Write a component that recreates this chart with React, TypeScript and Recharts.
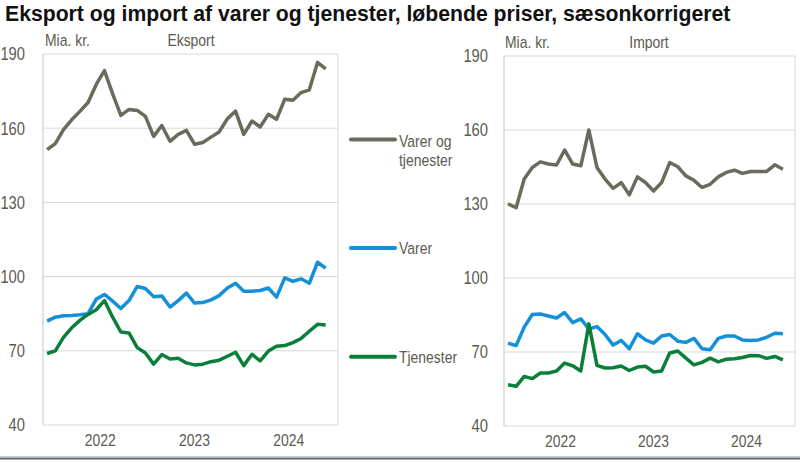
import React from 'react';
import { LineChart, Line, XAxis, YAxis, CartesianGrid } from 'recharts';

// Månedlige observationer, 2022M01 - 2024M11
const months = [
  '2022M01', '2022M02', '2022M03', '2022M04', '2022M05', '2022M06',
  '2022M07', '2022M08', '2022M09', '2022M10', '2022M11', '2022M12',
  '2023M01', '2023M02', '2023M03', '2023M04', '2023M05', '2023M06',
  '2023M07', '2023M08', '2023M09', '2023M10', '2023M11', '2023M12',
  '2024M01', '2024M02', '2024M03', '2024M04', '2024M05', '2024M06',
  '2024M07', '2024M08', '2024M09', '2024M10', '2024M11',
];

// Eksport (mia. kr.)
const eksportTotal = [
  151.3, 153.8, 159.4, 163.4, 166.8, 170.4, 177.7, 183.3, 173.9, 165.2, 167.6, 167.2,
  164.8, 156.7, 161.1, 154.7, 157.5, 159.1, 153.5, 154.2, 156.4, 158.5, 163.8, 166.9,
  157.5, 162.9, 160.5, 165.6, 163.6, 171.7, 171.3, 174.4, 175.5, 186.6, 184.0,
];
const eksportVarer = [
  82.0, 83.6, 84.2, 84.3, 84.6, 85.0, 90.9, 92.8, 90.1, 87.1, 90.3, 96.0,
  95.2, 91.9, 92.2, 87.7, 90.3, 93.3, 89.3, 89.5, 90.6, 92.3, 95.4, 97.3,
  94.1, 94.1, 94.4, 95.4, 91.7, 99.5, 98.1, 99.1, 97.3, 105.8, 103.4,
];
const eksportTjenester = [
  68.9, 70.0, 75.4, 79.3, 82.3, 84.7, 86.6, 90.3, 83.6, 77.6, 77.2, 71.3,
  69.1, 64.6, 68.5, 66.7, 67.0, 65.1, 64.3, 64.6, 65.6, 66.2, 67.8, 69.4,
  64.0, 68.6, 65.9, 69.9, 71.8, 72.1, 73.3, 75.0, 77.9, 80.7, 80.4,
];

// Import (mia. kr.)
const importTotal = [
  130.1, 128.5, 140.1, 144.8, 147.1, 146.2, 145.8, 151.9, 146.2, 145.5, 160.0, 144.8,
  140.1, 136.3, 138.7, 133.7, 141.0, 138.7, 135.3, 138.7, 146.8, 145.1, 141.4, 139.6,
  136.7, 138.0, 141.0, 142.8, 143.7, 142.4, 143.2, 143.2, 143.2, 145.9, 144.1,
];
const importVarer = [
  73.6, 72.6, 80.1, 85.2, 85.4, 84.6, 83.8, 86.0, 81.9, 83.4, 79.4, 80.3,
  77.1, 72.8, 74.7, 71.3, 77.4, 74.9, 73.6, 76.5, 77.1, 74.4, 73.9, 75.5,
  71.3, 70.9, 75.5, 76.5, 76.5, 74.9, 74.7, 74.9, 76.0, 77.6, 77.4,
];
const importTjenester = [
  56.7, 56.1, 60.1, 59.2, 61.5, 61.5, 62.3, 65.5, 64.4, 62.3, 81.4, 64.6,
  63.5, 63.6, 64.3, 62.5, 63.9, 64.2, 61.9, 62.3, 69.6, 70.4, 67.5, 64.8,
  65.8, 67.5, 66.0, 67.1, 67.3, 67.8, 68.6, 68.5, 67.4, 68.2, 66.8,
];

const yTicks = [40, 70, 100, 130, 160, 190];
const yearLabels = ['2022', '2023', '2024'];
const yearLabelPos = [6.5, 18, 29.5];
const yearBreaks = [11.5, 23.5, 35.5];

const colors = {
  total: '#6b6a5d',
  varer: '#1490d8',
  tjenester: '#0a7f3a',
  grid: '#d9d9d2',
  text: '#5b5b50',
};

// Arial Narrow findes ikke - Liberation Sans presset vandret
const FONT = "'Liberation Sans', Arial, sans-serif";
const SQUEEZE = 0.82;
const FS = 17;

const buildRows = (total: number[], varer: number[], tjenester: number[]) =>
  months.map((m, i) => ({ i, month: m, total: total[i], varer: varer[i], tjenester: tjenester[i] }));

const eksportRows = buildRows(eksportTotal, eksportVarer, eksportTjenester);
const importRows = buildRows(importTotal, importVarer, importTjenester);

function NarrowText({ x, y, anchor = 'start', dy, size = FS, children }: any) {
  return (
    <text
      x={0}
      y={0}
      dy={dy}
      transform={`translate(${x},${y}) scale(${SQUEEZE},1)`}
      textAnchor={anchor}
      fontSize={size}
      fontFamily={FONT}
      fill={colors.text}
    >
      {children}
    </text>
  );
}

const YTick = (props: any) => (
  <NarrowText x={props.x} y={props.y} anchor="end" dy="0.355em" size={18}>
    {props.payload.value}
  </NarrowText>
);

const YearTick = (props: any) => (
  <NarrowText x={props.x} y={props.y} anchor="middle" dy="0.71em">
    {yearLabels[yearLabelPos.indexOf(props.payload.value)] ?? ''}
  </NarrowText>
);

interface PanelProps {
  data: ReturnType<typeof buildRows>;
  left: number;
  width: number;
  top: number;
  bottomPad: number;
  marginLeft: number;
  marginRight: number;
  tickGap: number;
}

function Panel({ data, left, width, top, bottomPad, marginLeft, marginRight, tickGap }: PanelProps) {
  return (
    <div style={{ position: 'absolute', left, top: 0 }}>
      <LineChart
        width={width}
        height={462}
        data={data}
        margin={{ top, right: marginRight, left: marginLeft, bottom: bottomPad }}
      >
        <CartesianGrid stroke={colors.grid} strokeWidth={1} />
        <XAxis
          dataKey="i"
          type="number"
          domain={[-0.5, 35.5]}
          ticks={yearBreaks}
          tick={false}
          tickLine={false}
          height={0}
          axisLine={{ stroke: colors.grid }}
        />
        <XAxis
          xAxisId="years"
          dataKey="i"
          type="number"
          domain={[-0.5, 35.5]}
          ticks={yearLabelPos}
          axisLine={false}
          tickLine={false}
          tickSize={0}
          tickMargin={9}
          height={30}
          tick={<YearTick />}
          interval={0}
        />
        <YAxis
          domain={[40, 190]}
          ticks={yTicks}
          width={40}
          axisLine={{ stroke: colors.grid }}
          tickLine={false}
          tickSize={0}
          tickMargin={tickGap}
          tick={<YTick />}
          interval={0}
        />
        <Line type="linear" dataKey="total" stroke={colors.total} strokeWidth={3.5} dot={false} isAnimationActive={false} strokeLinejoin="round" />
        <Line type="linear" dataKey="varer" stroke={colors.varer} strokeWidth={3.5} dot={false} isAnimationActive={false} strokeLinejoin="round" />
        <Line type="linear" dataKey="tjenester" stroke={colors.tjenester} strokeWidth={3.5} dot={false} isAnimationActive={false} strokeLinejoin="round" />
      </LineChart>
    </div>
  );
}

function Overlay() {
  const legend = [
    { color: colors.total, y: 139.5, lines: ['Varer og', 'tjenester'], base: 146.5 },
    { color: colors.varer, y: 248, lines: ['Varer'], base: 254 },
    { color: colors.tjenester, y: 356.7, lines: ['Tjenester'], base: 362.5 },
  ];
  return (
    <svg width={800} height={462} style={{ position: 'absolute', left: 0, top: 0, pointerEvents: 'none' }}>
      <text x={5} y={21} fontSize={21.2} fontWeight="bold" fontFamily={FONT} fill="#111">
        Eksport og import af varer og tjenester, løbende priser, sæsonkorrigeret
      </text>
      <NarrowText x={45} y={46}>Mia. kr.</NarrowText>
      <NarrowText x={191} y={46} anchor="middle">Eksport</NarrowText>
      <NarrowText x={505} y={48}>Mia. kr.</NarrowText>
      <NarrowText x={649} y={48} anchor="middle">Import</NarrowText>
      {legend.map((l) => (
        <g key={l.lines[0]}>
          <line x1={351} x2={395} y1={l.y} y2={l.y} stroke={l.color} strokeWidth={4} strokeLinecap="round" />
          {l.lines.map((s, k) => (
            <NarrowText key={s} x={399} y={l.base + k * 19}>{s}</NarrowText>
          ))}
        </g>
      ))}
      <line x1={0} x2={800} y1={456.5} y2={456.5} stroke="#c9cdcf" strokeWidth={1} />
      <line x1={0} x2={800} y1={458.5} y2={458.5} stroke="#5d696d" strokeWidth={2} />
    </svg>
  );
}

export default function App() {
  return (
    <div style={{ position: 'absolute', left: 0, top: 0, width: 800, height: 462, background: '#fff', overflow: 'hidden' }}>
      <Panel data={eksportRows} left={0} width={345} top={54} bottomPad={7} marginLeft={3} marginRight={7} tickGap={18} />
      <Panel data={importRows} left={460} width={340} top={56} bottomPad={6} marginLeft={4} marginRight={5} tickGap={16} />
      <Overlay />
    </div>
  );
}
